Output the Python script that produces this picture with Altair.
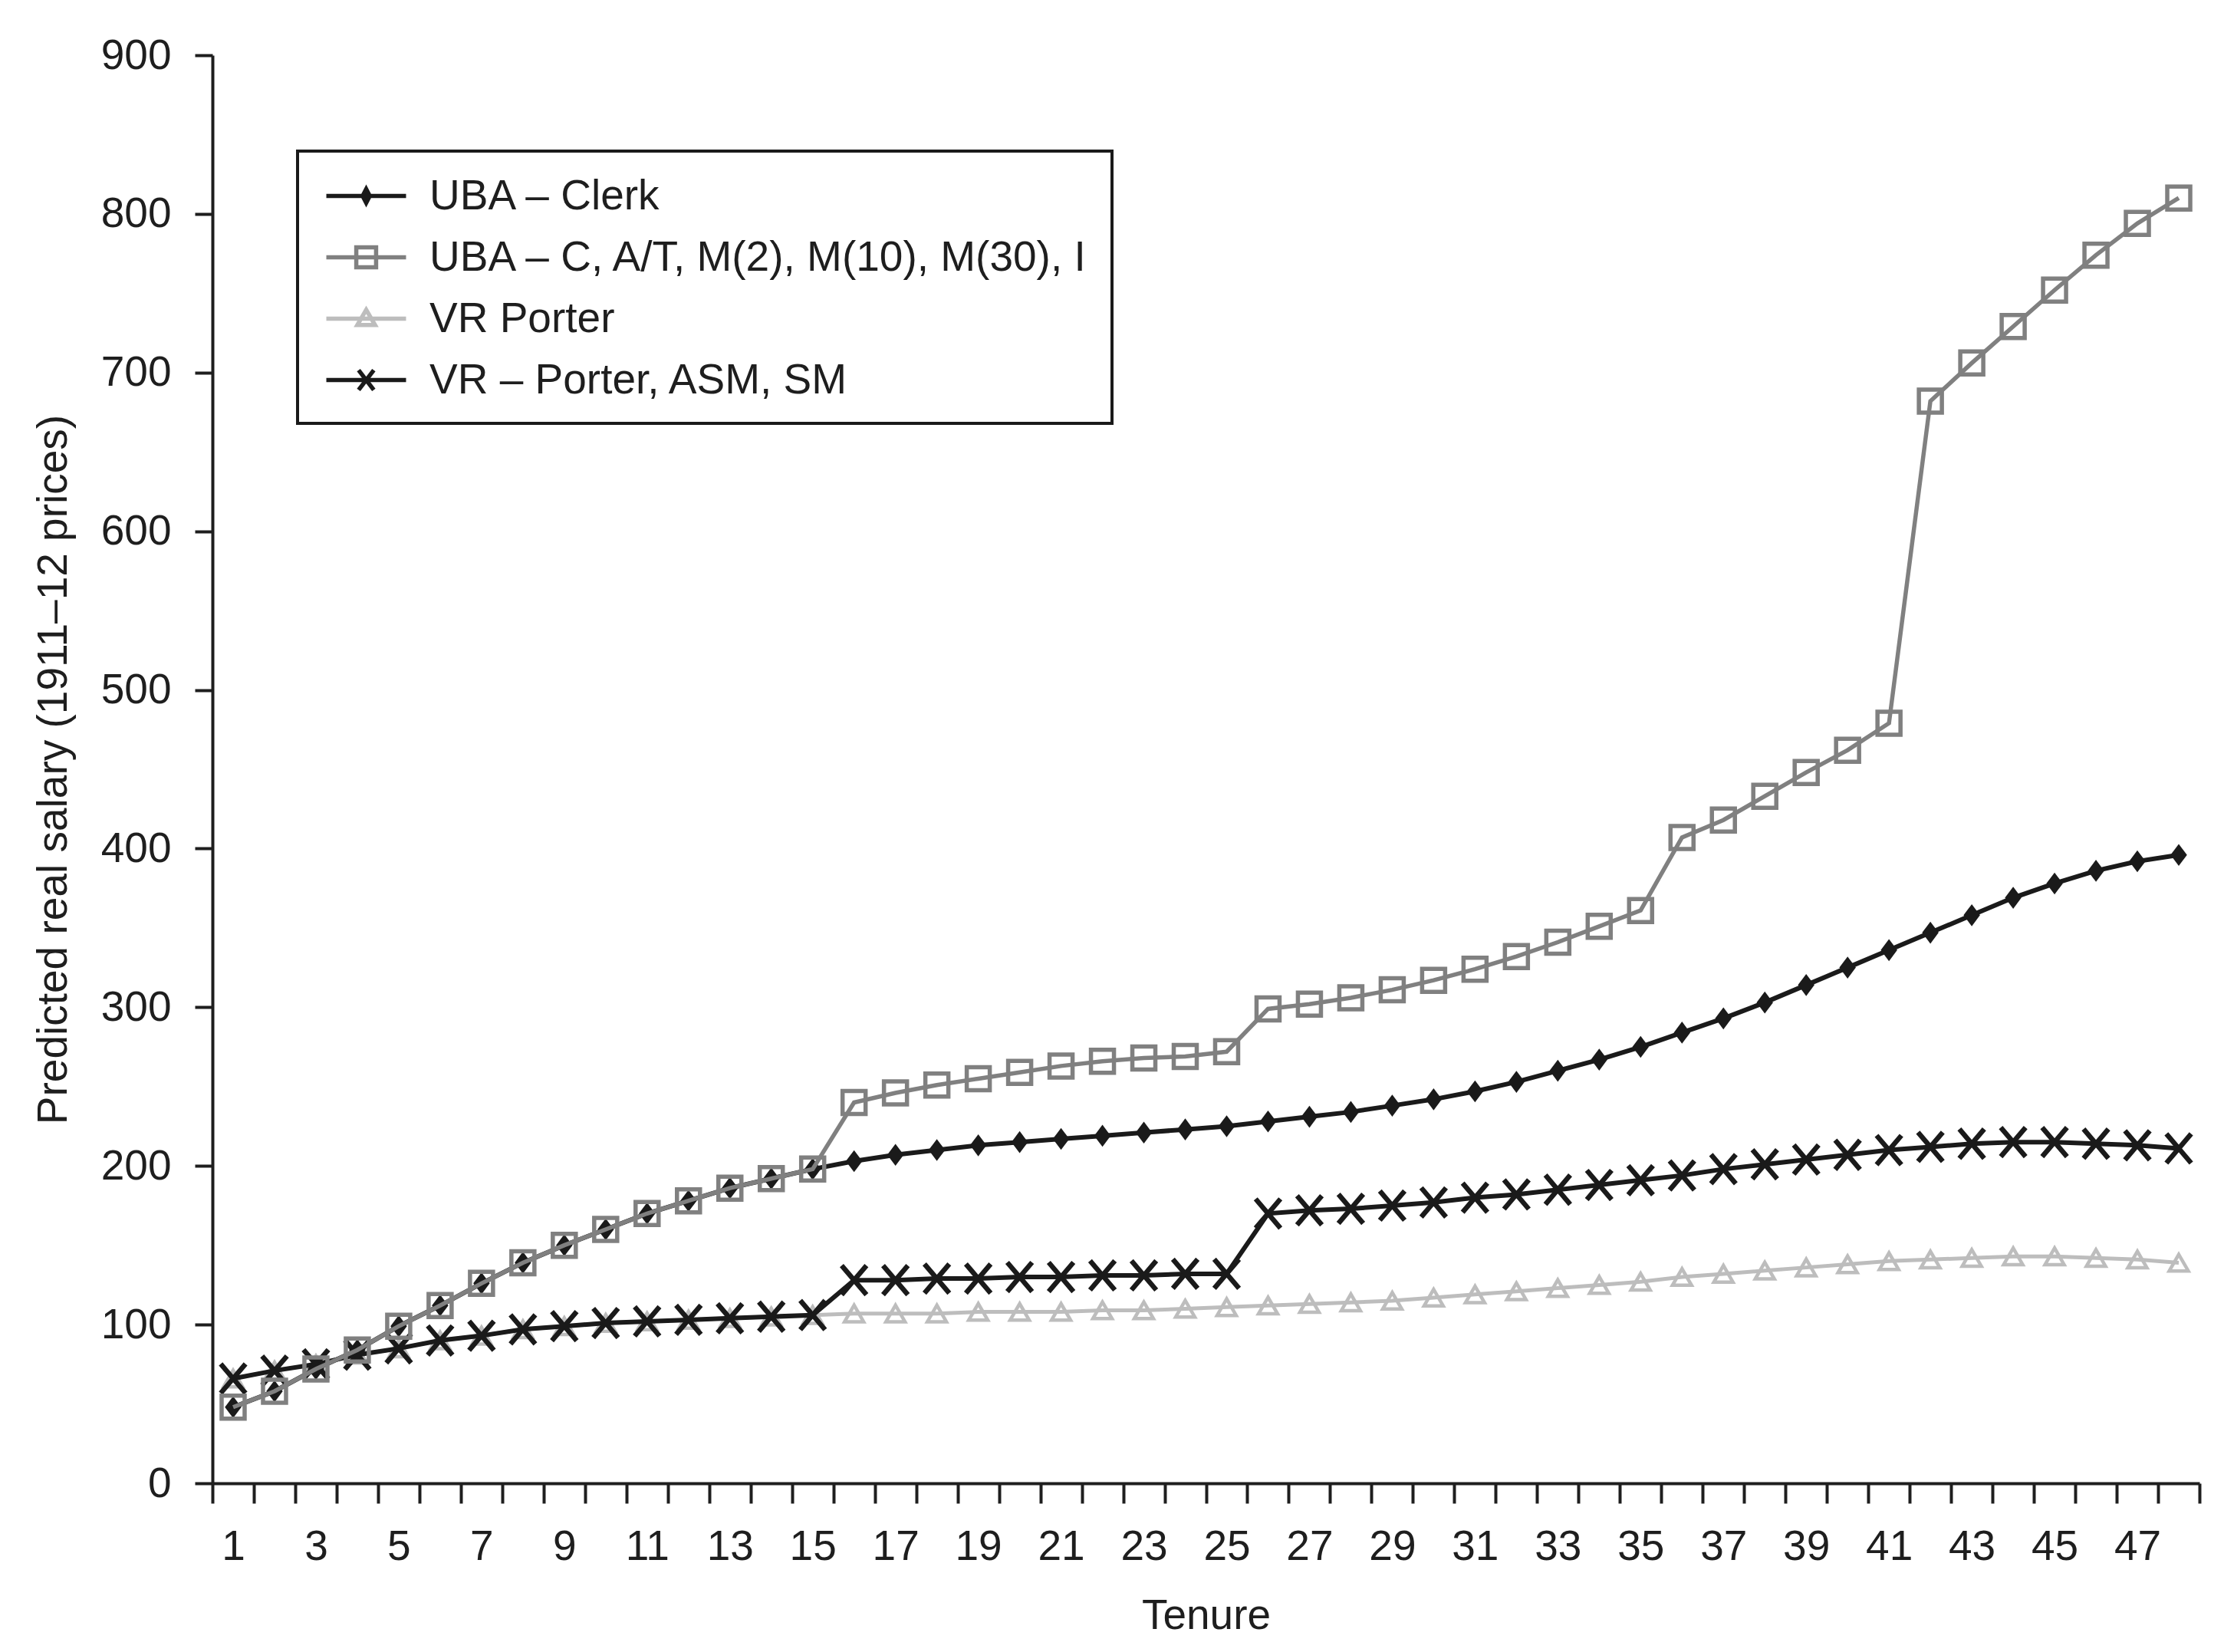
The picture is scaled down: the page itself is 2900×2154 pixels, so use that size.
import altair as alt
import pandas as pd

tenure = list(range(1, 49))

uba_clerk = [48, 58, 72, 84, 99, 112, 126, 139, 150, 160, 170, 178, 186, 192, 198,
             203, 207, 210, 213, 215, 217, 219, 221, 223, 225, 228, 231, 234, 238, 242,
             247, 253, 260, 267, 275, 284, 293, 303, 314, 325, 336, 347, 358, 369, 378,
             386, 392, 396]
uba_multi = [48, 58, 72, 84, 99, 112, 126, 139, 150, 160, 170, 178, 186, 192, 198,
             240, 246, 251, 255, 259, 263, 266, 268, 269, 272, 299, 302, 306, 311, 317,
             324, 332, 341, 351, 361, 407, 418, 433, 448, 462, 479, 682, 706, 729, 752,
             774, 794, 810]
vr_porter = [66, 71, 75, 81, 85, 90, 93, 97, 99, 101, 102, 103, 104, 105, 106,
             107, 107, 107, 108, 108, 108, 109, 109, 110, 111, 112, 113, 114, 115, 117,
             119, 121, 123, 125, 127, 130, 132, 134, 136, 138, 140, 141, 142, 143, 143,
             142, 141, 139]
vr_multi = [66, 71, 75, 81, 85, 90, 93, 97, 99, 101, 102, 103, 104, 105, 106,
            128, 128, 129, 129, 130, 130, 131, 131, 132, 132, 170, 172, 173, 175, 177,
            180, 182, 185, 188, 191, 194, 198, 201, 204, 207, 210, 212, 214, 215, 215,
            214, 213, 211]

series_names = ["UBA – Clerk", "UBA – C, A/T, M(2), M(10), M(30), I",
                "VR Porter", "VR – Porter, ASM, SM"]
series_values = [uba_clerk, uba_multi, vr_porter, vr_multi]
series_colors = ["#1a1a1a", "#808080", "#bdbdbd", "#1a1a1a"]

rows = []
for name, vals in zip(series_names, series_values):
    for t, v in zip(tenure, vals):
        rows.append({"tenure": t, "salary": v, "series": name})
df = pd.DataFrame(rows)

FONT = "Liberation Sans"
TXT = "#1e1e1e"

x_enc = alt.X(
    "tenure:O",
    scale=alt.Scale(type="band", paddingInner=0, paddingOuter=0),
    bandPosition=0.5,
    axis=alt.Axis(
        title="Tenure", tickBand="extent", labelAngle=0,
        labelExpr="datum.value % 2 == 1 ? datum.label : ''",
        labelOverlap=False, tickSize=26, tickWidth=4, tickColor=TXT,
        domainWidth=4, domainColor=TXT, grid=False,
        labelFont=FONT, labelFontSize=55, labelColor=TXT, labelPadding=30,
        titleFont=FONT, titleFontSize=55, titleColor=TXT,
        titleFontWeight="normal", titlePadding=36,
    ),
)
y_enc = alt.Y(
    "salary:Q",
    scale=alt.Scale(domain=[0, 900], nice=False, zero=True),
    axis=alt.Axis(
        title="Predicted real salary (1911–12 prices)",
        values=list(range(0, 1000, 100)), tickSize=23, tickWidth=4,
        tickColor=TXT, domainWidth=4, domainColor=TXT, grid=False,
        labelFont=FONT, labelFontSize=55, labelColor=TXT, labelPadding=31,
        titleFont=FONT, titleFontSize=55, titleColor=TXT,
        titleFontWeight="normal", titlePadding=33,
    ),
)

# marker specs per series: (shape, filled, size, stroke width, line width)
marker_specs = {
    "UBA – Clerk": ("M0,-1L0.75,0L0,1L-0.75,0Z", True, 820, 0, 6),
    "UBA – C, A/T, M(2), M(10), M(30), I": ("square", False, 900, 5.5, 5.5),
    "VR Porter": ("triangle-up", False, 620, 4.5, 5),
    "VR – Porter, ASM, SM": ("M-0.85,-1L0.85,1M-0.85,1L0.85,-1", False, 1450, 6.5, 6),
}
draw_order = ["VR Porter", "VR – Porter, ASM, SM", "UBA – Clerk",
              "UBA – C, A/T, M(2), M(10), M(30), I"]

base = alt.Chart(df)
layers = []
for name in draw_order:
    col = series_colors[series_names.index(name)]
    shape, filled, size, sw, lw = marker_specs[name]
    sub = base.transform_filter(alt.datum.series == name)
    layers.append(sub.mark_line(color=col, strokeWidth=lw).encode(x=x_enc, y=y_enc))
    if filled:
        pm = sub.mark_point(shape=shape, filled=True, color=col, size=size, opacity=1)
    else:
        pm = sub.mark_point(shape=shape, filled=False, color=col, size=size,
                            strokeWidth=sw, opacity=1)
    layers.append(pm.encode(x=x_enc, y=y_enc))

legend_paths = [
    "M-1.89,0H1.89M0,-0.33L0.17,0L0,0.33L-0.17,0ZM0,-0.33V0.33",
    "M-1.89,0H1.89M-0.47,-0.47H0.47V0.47H-0.47Z",
    "M-1.89,0H1.89M0,-0.42L0.42,0.3L-0.42,0.3Z",
    "M-1.89,0H1.89M-0.36,-0.47L0.36,0.47M-0.36,0.47L0.36,-0.47",
]

leg = alt.Legend(
    title=None, orient="none", legendX=111, legendY=125,
    padding=28, strokeColor="#1a1a1a",
    symbolSize=3025, symbolStrokeWidth=5.5, symbolOffset=31,
    labelOffset=52, rowPadding=21,
    labelFont=FONT, labelFontSize=55, labelColor=TXT, labelLimit=3000,
)

legend_layer = base.mark_point(opacity=0, filled=False, size=3025, strokeWidth=5.5).encode(
    x=x_enc, y=y_enc,
    color=alt.Color("series:N", scale=alt.Scale(domain=series_names, range=series_colors), legend=leg),
    shape=alt.Shape("series:N", scale=alt.Scale(domain=series_names, range=legend_paths), legend=leg),
)
layers.append(legend_layer)

chart = alt.layer(*layers).properties(
    width=2591, height=1862,
    autosize=alt.AutoSizeParams(type="none"),
    padding={"left": 269, "top": 64, "right": 24, "bottom": 206},
    background="white",
).configure_view(stroke=None).configure_legend(strokeWidth=4)

chart.save("out.html", embed_options={"renderer": "svg", "actions": False})
